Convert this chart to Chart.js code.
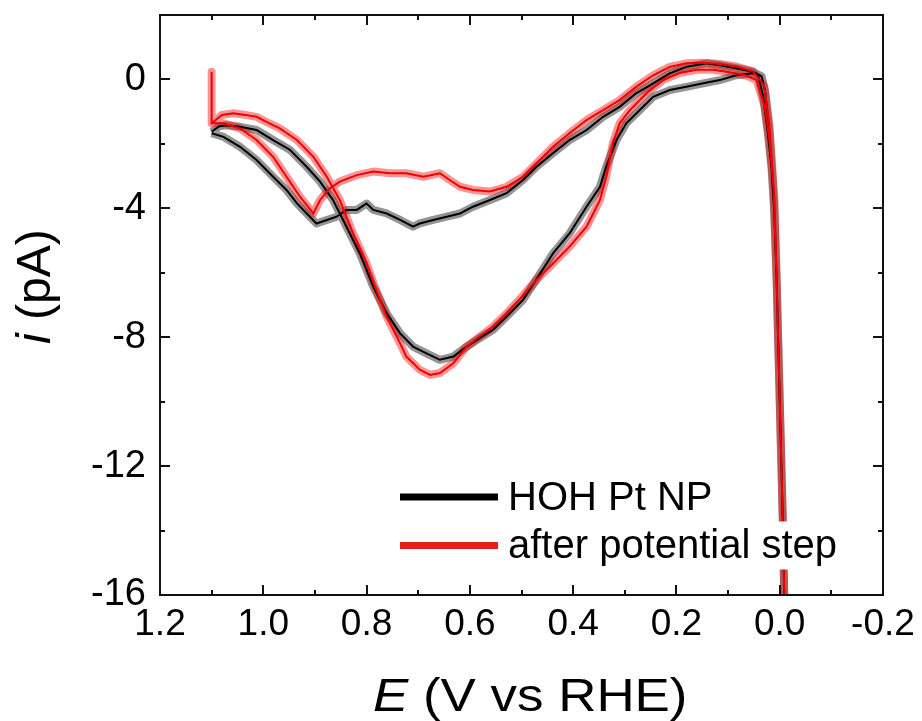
<!DOCTYPE html>
<html>
<head>
<meta charset="utf-8">
<script src="https://cdn.jsdelivr.net/npm/chart.js@4.4.1/dist/chart.umd.min.js"></script>
<style>
  html, body { margin: 0; padding: 0; background: #fff; }
  #wrap { width: 922px; height: 721px; }
</style>
</head>
<body>
<div id="wrap"><canvas id="cv" width="922" height="721"></canvas></div>
<script>
// potential (V vs RHE) and current (pA)
// HOH Pt NP: cathodic sweep from 1.1 V, then back
const hohE = [1.100, 1.085, 1.071, 1.045, 1.013, 0.981, 0.948, 0.916, 0.890, 0.865, 0.839, 0.813, 0.787, 0.761, 0.735,
  0.710, 0.684, 0.658, 0.632, 0.606, 0.581, 0.555, 0.529, 0.497, 0.471, 0.439, 0.407, 0.374, 0.348, 0.336, 0.316,
  0.297, 0.271, 0.245, 0.213, 0.181, 0.148, 0.116, 0.084, 0.052, 0.042, 0.032, 0.023, 0.016, 0.010, 0.006, -0.006, -0.010,
  -0.006, 0.006, 0.012, 0.020, 0.028, 0.035, 0.052, 0.084, 0.116, 0.142, 0.181, 0.213, 0.245, 0.278, 0.310, 0.342,
  0.374, 0.407, 0.439, 0.471, 0.497, 0.529, 0.561, 0.594, 0.619, 0.645, 0.671, 0.697, 0.710, 0.735, 0.761, 0.787,
  0.800, 0.819, 0.839, 0.858, 0.877, 0.897, 0.916, 0.935, 0.955, 0.981, 1.013, 1.045, 1.077, 1.100];
const hohI = [-1.62, -1.45, -1.42, -1.47, -1.57, -1.88, -2.19, -2.71, -3.17, -3.74, -4.57, -5.40, -6.43, -7.26, -7.88,
  -8.29, -8.50, -8.70, -8.60, -8.29, -8.03, -7.77, -7.36, -6.84, -6.20, -5.40, -4.78, -3.95, -3.33, -2.71, -1.88,
  -1.36, -0.95, -0.54, -0.33, -0.23, -0.12, -0.02, 0.13, 0.19, 0.13, -0.54, -1.67, -2.71, -4.26, -6.20, -13.70, -17.00,
  -13.70, -6.20, -3.50, -1.60, -0.40, 0.10, 0.24, 0.35, 0.44, 0.50, 0.39, 0.19, -0.12, -0.43, -0.85, -1.16,
  -1.57, -1.88, -2.29, -2.71, -3.12, -3.53, -3.74, -3.95, -4.16, -4.26, -4.36, -4.47, -4.57, -4.36, -4.16, -4.05,
  -3.85, -4.05, -4.05, -4.26, -4.36, -4.47, -4.16, -3.84, -3.43, -3.02, -2.50, -2.09, -1.78, -1.67];

// after potential step
const stepE = [1.100, 1.100, 1.080, 1.058, 1.035, 1.013, 0.990, 0.968, 0.935, 0.903, 0.877, 0.852, 0.826, 0.800, 0.787,
  0.761, 0.735, 0.723, 0.697, 0.677, 0.658, 0.632, 0.606, 0.581, 0.555, 0.529, 0.497, 0.471, 0.439, 0.407, 0.374,
  0.348, 0.336, 0.323, 0.310, 0.290, 0.258, 0.226, 0.194, 0.161, 0.129, 0.097, 0.065, 0.045, 0.029, 0.020, 0.010,
  0.006, -0.006, -0.010,
  -0.006, 0.006, 0.012, 0.020, 0.030, 0.052, 0.084, 0.116, 0.150, 0.181, 0.213, 0.245, 0.278, 0.310, 0.342, 0.374,
  0.407, 0.439, 0.471, 0.497, 0.529, 0.561, 0.594, 0.619, 0.639, 0.658, 0.690, 0.723, 0.755, 0.787, 0.819, 0.852,
  0.871, 0.890, 0.903, 0.929, 0.955, 0.981, 1.013, 1.045, 1.077, 1.100];
const stepI = [0.24, -1.36, -1.10, -1.05, -1.10, -1.16, -1.35, -1.52, -1.88, -2.40, -3.02, -3.74, -4.78, -5.71, -6.30,
  -7.36, -8.19, -8.60, -9.01, -9.17, -9.11, -8.81, -8.29, -7.98, -7.67, -7.26, -6.70, -6.22, -5.71, -5.19, -4.57,
  -3.74, -3.02, -1.98, -1.36, -0.95, -0.43, -0.02, 0.20, 0.30, 0.30, 0.22, 0.12, -0.02, -0.85, -1.88, -3.74,
  -6.20, -13.70, -17.00,
  -13.70, -6.20, -3.30, -1.40, -0.20, 0.25, 0.40, 0.48, 0.52, 0.50, 0.39, 0.13, -0.23, -0.64, -0.95, -1.26,
  -1.67, -2.09, -2.60, -3.02, -3.33, -3.48, -3.43, -3.33, -3.12, -2.91, -3.02, -2.91, -2.91, -2.86, -2.97, -3.17,
  -3.38, -3.74, -4.16, -3.64, -3.02, -2.40, -1.88, -1.52, -1.36, -1.36];

const xTicks = [1.2, 1.0, 0.8, 0.6, 0.4, 0.2, 0.0, -0.2];
const xMinor = [1.1, 0.9, 0.7, 0.5, 0.3, 0.1, -0.1];
const yTicks = [-16, -12, -8, -4, 0];
const yMinor = [-14, -10, -6, -2];
const legendLabels = ['HOH Pt NP', 'after potential step'];

const FONT = '"Liberation Sans", Arial, sans-serif';
const BLACK = '#000000';
const RED = '#f00000';

function pts(E, I) {
    return E.map((e, k) => ({ x: e, y: I[k] }));
}

// frame, inward ticks, legend and axis titles
const framePlugin = {
    id: 'frame',
    afterDatasetsDraw(chart) {
        const { ctx, chartArea: a, scales } = chart;
        const sx = scales.x, sy = scales.y;
        ctx.save();
        ctx.strokeStyle = '#111';
        ctx.lineWidth = 2;
        ctx.strokeRect(a.left, a.top, a.right - a.left, a.bottom - a.top);

        ctx.beginPath();
        const xt = (v, len) => {
            const p = Math.round(sx.getPixelForValue(v));
            ctx.moveTo(p, a.bottom); ctx.lineTo(p, a.bottom - len);
            ctx.moveTo(p, a.top); ctx.lineTo(p, a.top + len);
        };
        const yt = (v, len) => {
            const p = Math.round(sy.getPixelForValue(v));
            ctx.moveTo(a.left, p); ctx.lineTo(a.left + len, p);
            ctx.moveTo(a.right, p); ctx.lineTo(a.right - len, p);
        };
        xTicks.forEach(v => xt(v, 10));
        xMinor.forEach(v => xt(v, 5));
        yTicks.forEach(v => yt(v, 10));
        yMinor.forEach(v => yt(v, 5));
        ctx.stroke();

        // legend
        const cols = ['#000000', '#e41e1e'];
        const rows = [497, 545.5];
        ctx.font = '40px ' + FONT;
        ctx.textBaseline = 'alphabetic';
        legendLabels.forEach((txt, k) => {
            const w = ctx.measureText(txt).width;
            ctx.fillStyle = '#fff';
            ctx.fillRect(504, rows[k] - 24, w + 8, 48);
            ctx.fillStyle = cols[k];
            ctx.fillRect(400, rows[k] - 3.5, 98, 7);
            ctx.fillStyle = '#000';
            ctx.fillText(txt, 508, rows[k] + 12.5);
        });

        // x title
        ctx.save();
        ctx.translate(373, 711);
        ctx.scale(1.15, 1);
        ctx.font = 'italic 46px ' + FONT;
        ctx.fillText('E', 0, 0);
        const wE = ctx.measureText('E').width;
        ctx.font = '46px ' + FONT;
        ctx.fillText(' (V vs RHE)', wE, 0);
        ctx.restore();

        // y title
        ctx.save();
        ctx.translate(50, 344);
        ctx.rotate(-Math.PI / 2);
        ctx.font = 'italic 48px ' + FONT;
        ctx.fillText('i', 0, 0);
        const wi = ctx.measureText('i').width;
        ctx.font = '48px ' + FONT;
        ctx.fillText(' (pA)', wi, 0);
        ctx.restore();

        ctx.restore();
    }
};

new Chart(document.getElementById('cv'), {
    type: 'scatter',
    data: {
        datasets: [
            { label: legendLabels[0], data: pts(hohE, hohI), showLine: true, borderColor: 'rgba(0,0,0,0.42)',
              borderWidth: 8, borderJoinStyle: 'round', pointRadius: 0, clip: 0, order: 3 },
            { label: legendLabels[1], data: pts(stepE, stepI), showLine: true, borderColor: 'rgba(240,0,0,0.42)',
              borderWidth: 8, borderJoinStyle: 'round', pointRadius: 0, clip: 0, order: 2 },
            { label: legendLabels[0], data: pts(hohE, hohI), showLine: true, borderColor: BLACK,
              borderWidth: 2, pointRadius: 0, clip: 0, order: 1 },
            { label: legendLabels[1], data: pts(stepE, stepI), showLine: true, borderColor: RED,
              borderWidth: 2, pointRadius: 0, clip: 0, order: 0 }
        ]
    },
    options: {
        responsive: false,
        animation: false,
        layout: { padding: { left: 0, right: 39, top: 15, bottom: 0 } },
        plugins: { legend: { display: false }, tooltip: { enabled: false } },
        scales: {
            x: {
                type: 'linear',
                reverse: true,
                min: -0.2,
                max: 1.2,
                grid: { display: false, drawTicks: false },
                border: { display: false },
                afterBuildTicks: s => { s.ticks = xTicks.map(v => ({ value: v })); },
                afterFit: s => { s.height = 126; s.paddingLeft = 0; s.paddingRight = 0; },
                ticks: {
                    padding: 8,
                    color: '#000',
                    autoSkip: false,
                    maxRotation: 0,
                    font: { family: FONT, size: 37 },
                    callback: v => v.toFixed(1)
                }
            },
            y: {
                type: 'linear',
                min: -16,
                max: 2,
                grid: { display: false, drawTicks: false },
                border: { display: false },
                afterBuildTicks: s => { s.ticks = yTicks.map(v => ({ value: v })); },
                afterFit: s => { s.width = 160; s.paddingTop = 0; s.paddingBottom = 0; },
                ticks: {
                    padding: 14,
                    color: '#000',
                    font: { family: FONT, size: 38 },
                    callback: v => String(v)
                }
            }
        }
    },
    plugins: [framePlugin]
});
</script>
</body>
</html>
